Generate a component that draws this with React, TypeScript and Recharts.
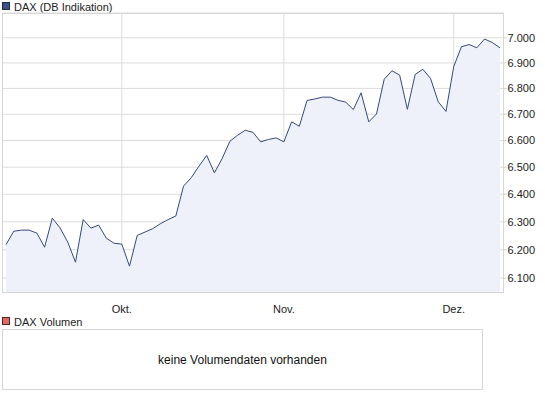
import React from "react";
import { AreaChart, Area, XAxis, YAxis, CartesianGrid } from "recharts";

const dates: string[] = [
  "2010-09-10",
  "2010-09-13", "2010-09-14", "2010-09-15", "2010-09-16", "2010-09-17",
  "2010-09-20", "2010-09-21", "2010-09-22", "2010-09-23", "2010-09-24",
  "2010-09-27", "2010-09-28", "2010-09-29", "2010-09-30", "2010-10-01",
  "2010-10-04", "2010-10-05", "2010-10-06", "2010-10-07", "2010-10-08",
  "2010-10-11", "2010-10-12", "2010-10-13", "2010-10-14", "2010-10-15",
  "2010-10-18", "2010-10-19", "2010-10-20", "2010-10-21", "2010-10-22",
  "2010-10-25", "2010-10-26", "2010-10-27", "2010-10-28", "2010-10-29",
  "2010-11-01", "2010-11-02", "2010-11-03", "2010-11-04", "2010-11-05",
  "2010-11-08", "2010-11-09", "2010-11-10", "2010-11-11", "2010-11-12",
  "2010-11-15", "2010-11-16", "2010-11-17", "2010-11-18", "2010-11-19",
  "2010-11-22", "2010-11-23", "2010-11-24", "2010-11-25", "2010-11-26",
  "2010-11-29", "2010-11-30",
  "2010-12-01", "2010-12-02", "2010-12-03",
  "2010-12-06", "2010-12-07", "2010-12-08", "2010-12-09",
];

const daxValues: number[] = [
  6218,
  6266, 6270, 6270, 6259, 6209,
  6313, 6278, 6227, 6156, 6308,
  6277, 6288, 6241, 6223, 6220,
  6142, 6251, 6263, 6275, 6293,
  6308, 6321, 6430, 6461, 6504,
  6544, 6479, 6532, 6597, 6620,
  6639, 6631, 6595, 6604, 6610,
  6595, 6671, 6654, 6753, 6759,
  6766, 6766, 6754, 6747, 6718,
  6783, 6671, 6701, 6836, 6869,
  6852, 6719, 6854, 6875, 6839,
  6748, 6711,
  6885, 6964, 6973,
  6960, 6995, 6981, 6960,
];

const monthTicks: string[] = ["2010-10-01", "2010-11-01", "2010-12-01"];
const monthLabels: string[] = ["Okt.", "Nov.", "Dez."];

const yTicks: number[] = [6100, 6200, 6300, 6400, 6500, 6600, 6700, 6800, 6900, 7000];
const yDomain: [number, number] = [6050, 7100];

const seriesName = "DAX (DB Indikation)";
const volumeName = "DAX Volumen";
const noVolumeText = "keine Volumendaten vorhanden";

const data = dates.map((d, i) => ({ date: d, dax: daxValues[i] }));

const FONT = '"Liberation Sans", Arial, sans-serif';

const fmtY = (v: number) => {
  const s = String(Math.round(v));
  return s.slice(0, s.length - 3) + "." + s.slice(s.length - 3);
};

const fmtX = (v: string) => {
  const idx = monthTicks.indexOf(v);
  return idx >= 0 ? monthLabels[idx] : "";
};

function LegendItem({ top, color, border, label }: { top: number; color: string; border: string; label: string }) {
  return (
    <div style={{ position: "absolute", left: 2, top, height: 12, fontFamily: FONT, fontSize: 11, lineHeight: "12px", color: "#222", whiteSpace: "nowrap" }}>
      <span style={{ position: "absolute", left: 0, top: 1, width: 6, height: 6, background: color, border: `1px solid ${border}` }} />
      <span style={{ position: "absolute", left: 12, top: 0 }}>{label}</span>
    </div>
  );
}

export default function App() {
  return (
    <div style={{ position: "absolute", left: 0, top: 0, width: 545, height: 398, background: "#ffffff", overflow: "hidden" }}>
      <LegendItem top={1} color="#3d5284" border="#1f2a44" label={seriesName} />
      <div style={{ position: "absolute", left: 0, top: 0 }}>
        <AreaChart
          width={545}
          height={320}
          data={data}
          margin={{ top: 13, right: 0, left: 2.5, bottom: 0 }}
          style={{ fontFamily: FONT }}
        >
          <CartesianGrid stroke="#dcdcdc" strokeWidth={1} />
          <XAxis
            dataKey="date"
            ticks={monthTicks}
            interval={0}
            tickFormatter={fmtX}
            tickLine={false}
            axisLine={false}
            tickMargin={7}
            height={27.5}
            padding={{ left: 3.5, right: 3.5 }}
            tick={{ fontSize: 11, fill: "#222", fontFamily: FONT }}
          />
          <YAxis
            orientation="right"
            type="number"
            scale="log"
            domain={yDomain}
            allowDataOverflow
            ticks={yTicks}
            interval={0}
            tickFormatter={fmtY}
            tickSize={3}
            tickMargin={1}
            tickLine={{ stroke: "#cccccc" }}
            axisLine={false}
            width={41.5}
            tick={{ fontSize: 11, fill: "#222", fontFamily: FONT, textAnchor: "start" }}
          />
          <Area
            type="linear"
            dataKey="dax"
            stroke="#34497a"
            strokeWidth={1}
            fill="#eef1fa"
            fillOpacity={1}
            dot={false}
            activeDot={false}
            isAnimationActive={false}
          />
        </AreaChart>
      </div>
      <div style={{ position: "absolute", left: 2, top: 13, width: 502, height: 280, border: "1px solid #d6d6d6", boxSizing: "border-box", pointerEvents: "none" }} />
      <LegendItem top={316} color="#d96b6b" border="#5a2020" label={volumeName} />
      <div
        style={{
          position: "absolute",
          left: 2,
          top: 329,
          width: 481,
          height: 61,
          border: "1px solid #d6d6d6",
          boxSizing: "border-box",
          display: "flex",
          alignItems: "center",
          justifyContent: "center",
          fontFamily: FONT,
          fontSize: 12,
          color: "#111",
        }}
      >
        {noVolumeText}
      </div>
    </div>
  );
}
